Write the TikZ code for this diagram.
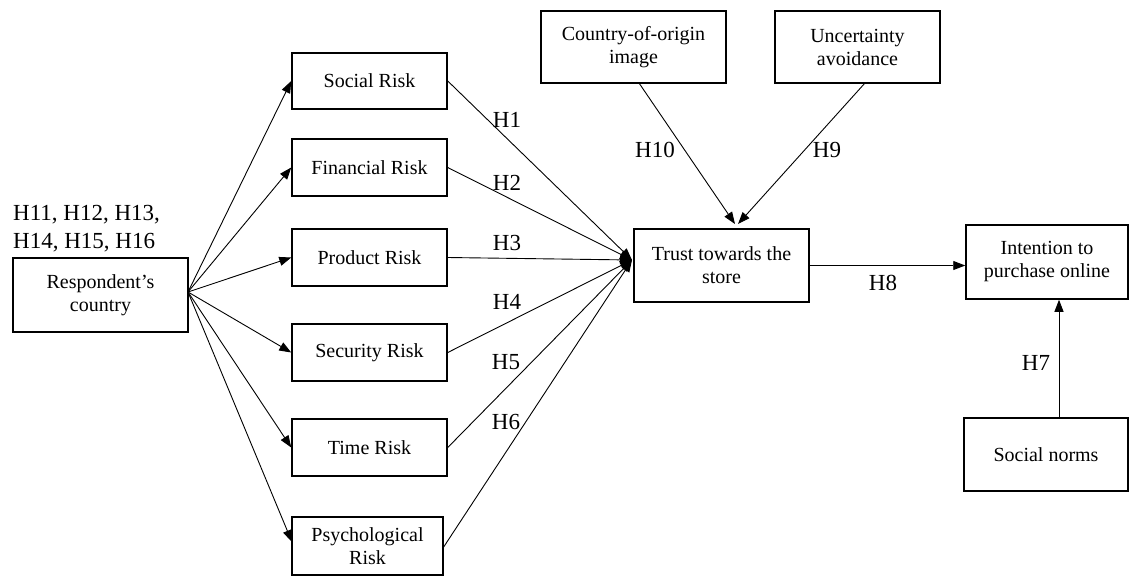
\documentclass[tikz,border=0pt]{standalone}
\usepackage{fontspec}
\setmainfont{Liberation Serif}
\usetikzlibrary{arrows.meta}
\begin{document}
\begin{tikzpicture}[x=1pt,y=-1pt,
  box/.style={draw,line width=1.5pt,rectangle,align=center,inner sep=0pt,
    font=\fontsize{20}{23}\selectfont},
  arr/.style={line width=0.9pt,-{Triangle[length=12pt,width=9pt]}},
  hl/.style={font=\fontsize{23}{27}\selectfont,inner sep=0pt}]
\useasboundingbox (0,0) rectangle (1132,576);
% boxes
\node[box,minimum width=175pt,minimum height=74pt] (resp) at (100.5,295) {Respondent’s\\country};
\node[box,minimum width=155pt,minimum height=56pt] (soc) at (369.5,81) {Social Risk};
\node[box,minimum width=155pt,minimum height=57pt] (fin) at (369.5,167.5) {Financial Risk};
\node[box,minimum width=155pt,minimum height=57pt] (prod) at (369.5,257.5) {Product Risk};
\node[box,minimum width=155pt,minimum height=57pt] (sec) at (369.5,352.5) {Security Risk};
\node[box,minimum width=155pt,minimum height=57pt] (time) at (369.5,447.5) {Time Risk};
\node[box,minimum width=151pt,minimum height=58pt] (psy) at (367.5,546) {Psychological\\Risk};
\node[box,minimum width=175pt,minimum height=73pt] (trust) at (721.5,265.5) {Trust towards the\\store};
\node[box,minimum width=185pt,minimum height=72pt] (coo) at (633.5,47) {Country-of-origin\\image};
\node[box,minimum width=165pt,minimum height=72pt] (ua) at (857.5,47) {Uncertainty\\avoidance};
\node[box,minimum width=162pt,minimum height=74pt] (int) at (1047,262) {Intention to\\purchase online};
\node[box,minimum width=164pt,minimum height=73pt] (sn) at (1046,454.5) {Social norms};
% coordinates
\coordinate (ro) at (188,292);
\coordinate (ti) at (632,260);
\coordinate (psyin) at (292,542);
\coordinate (psyout) at (443,548);
\coordinate (cooout) at (639,83);
\coordinate (cooin) at (735,224);
\coordinate (uaout) at (865,83);
\coordinate (uain) at (738,224);
\coordinate (h7x) at (1059,0);
% respondent arrows
\draw[arr] (ro) -- (soc.west);
\draw[arr] (ro) -- (fin.west);
\draw[arr] (ro) -- (prod.west);
\draw[arr] (ro) -- (sec.west);
\draw[arr] (ro) -- (time.west);
\draw[arr] (ro) -- (psyin);
% risk to trust
\draw[arr] (soc.east) -- (ti);
\draw[arr] (fin.east) -- (ti);
\draw[arr] (prod.east) -- (ti);
\draw[arr] (sec.east) -- (ti);
\draw[arr] (time.east) -- (ti);
\draw[arr] (psyout) -- (ti);
% moderators
\draw[arr] (cooout) -- (cooin);
\draw[arr] (uaout) -- (uain);
\draw[arr] (trust.east) -- (int.west |- trust.east);
\draw[arr] (sn.north -| h7x) -- (int.south -| h7x);
% labels
\node[hl,anchor=base west] (h11a) at (13,220) {H11, H12, H13,};
\node[hl,anchor=base west] (h11b) at (13,248) {H14, H15, H16};
\node[hl] (l1) at (507,120) {H1};
\node[hl] (l2) at (507,183) {H2};
\node[hl] (l3) at (507,243) {H3};
\node[hl] (l4) at (507,302) {H4};
\node[hl] (l5) at (506,362) {H5};
\node[hl] (l6) at (506,422) {H6};
\node[hl] (l10) at (655,150) {H10};
\node[hl] (l9) at (827,150) {H9};
\node[hl] (l8) at (883,283) {H8};
\node[hl] (l7) at (1036,363) {H7};
\end{tikzpicture}
\end{document}
